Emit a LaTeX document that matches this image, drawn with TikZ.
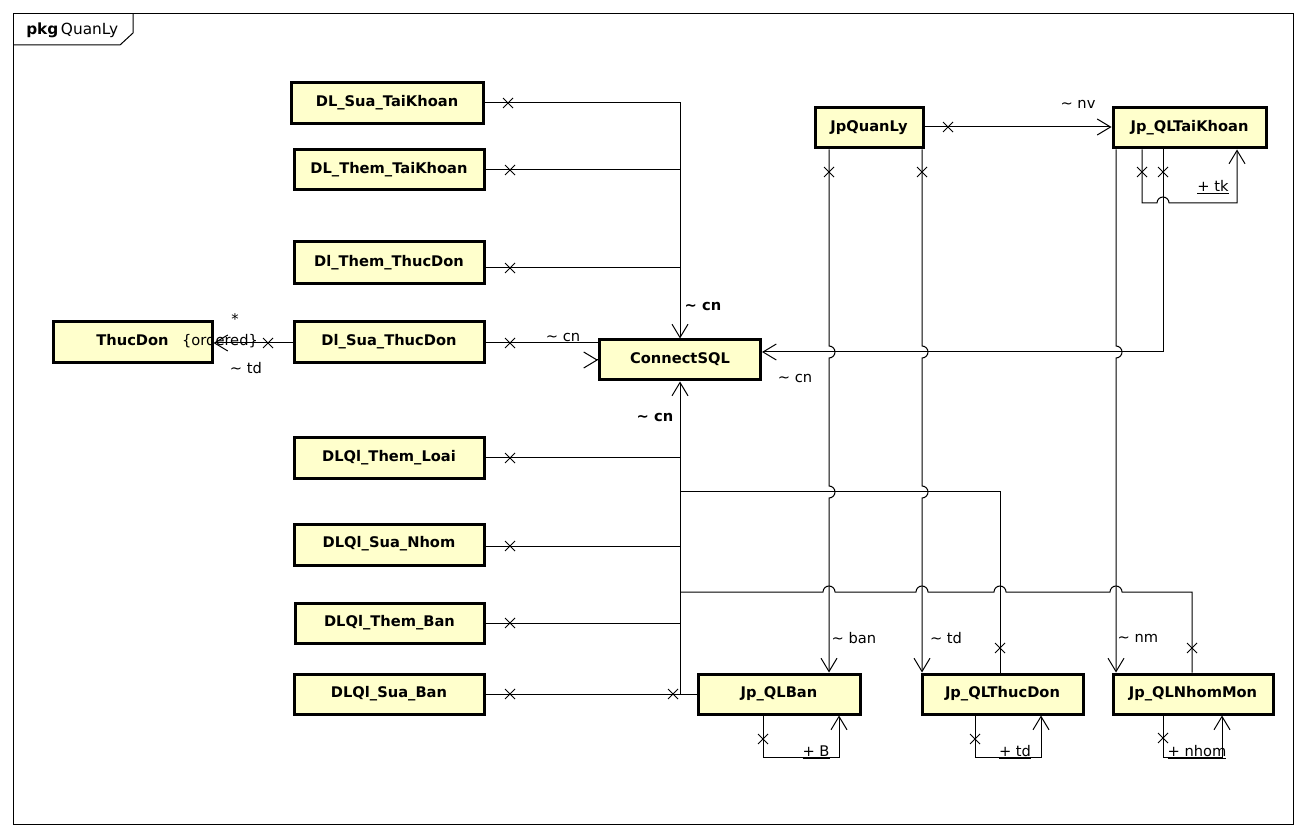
\documentclass[tikz,border=0pt]{standalone}
\usepackage{fontspec}
\setmainfont{DejaVu Sans}
\usetikzlibrary{arrows.meta,calc}
\definecolor{clsfill}{HTML}{FFFFCC}
\tikzset{
 cls/.style={draw=black, line width=2.25pt, fill=clsfill, font=\fontsize{11}{13}\selectfont\bfseries, inner sep=0pt, text height=8pt, text depth=3pt},
 conn/.style={line width=0.75pt},
 nav/.style={conn, -{Straight Barb[length=10pt,width=12pt,line width=0.75pt]}},
 lbl/.style={font=\fontsize{11}{13}\selectfont, inner sep=0pt},
 blbl/.style={font=\fontsize{11}{13}\selectfont\bfseries, inner sep=0pt},
 xm/.pic={\draw[line width=0.75pt] (-5,-5)--(5,5) (-5,5)--(5,-5);},
}
\newcommand\umlcls[6]{\node[cls,minimum width=#4*0.75pt,minimum height=#5*0.75pt] (#1) at (#2,#3) {#6};}
\begin{document}
\begin{tikzpicture}[x=0.75pt,y=-0.75pt]
\useasboundingbox (0,0) rectangle (1306,837);
% frame
\draw[line width=0.75pt] (13,14) rectangle (1293,824);
\draw[line width=0.75pt] (13,45) -- (120,45) -- (133,33) -- (133,14);
\node[anchor=west,inner sep=0pt,font=\fontsize{11.5}{13}\selectfont] (tab) at (26,30) {\textbf{pkg}\,QuanLy};
% classes
\umlcls{dlstk}{387}{103.5}{192}{41}{DL\_Sua\_TaiKhoan}
\umlcls{dlttk}{389}{170}{190}{40}{DL\_Them\_TaiKhoan}
\umlcls{dlttd}{389}{263}{190}{42}{Dl\_Them\_ThucDon}
\umlcls{dlstd}{389}{342.5}{190}{41}{Dl\_Sua\_ThucDon}
\umlcls{td}{132.5}{342.5}{159}{41}{ThucDon}
\umlcls{cs}{680}{360}{161}{40}{ConnectSQL}
\umlcls{dltl}{389}{458.5}{190}{41}{DLQl\_Them\_Loai}
\umlcls{dlsn}{389}{544.5}{190}{41}{DLQl\_Sua\_Nhom}
\umlcls{dltb}{389.5}{623}{189}{40}{DLQl\_Them\_Ban}
\umlcls{dlsb}{389}{694}{190}{40}{DLQl\_Sua\_Ban}
\umlcls{jql}{869}{128}{108}{40}{JpQuanLy}
\umlcls{qltk}{1189.5}{128}{153}{40}{Jp\_QLTaiKhoan}
\umlcls{qlban}{779}{694}{162}{40}{Jp\_QLBan}
\umlcls{qltd}{1002.5}{694}{161}{40}{Jp\_QLThucDon}
\umlcls{qlnm}{1193}{694}{160}{40}{Jp\_QLNhomMon}
% top trunk into ConnectSQL
\draw[nav] (dlstk.east |- 0,103) -- (680,103) -- (cs.north);
\draw[conn] (dlttk.east |- 0,170) -- (680,170);
\draw[conn] (dlttd.east |- 0,268) -- (680,268);
\pic at (508,103) {xm};
\pic at (510,170) {xm};
\pic at (510,268) {xm};
\node[blbl] (lcn1) at (703,306) {\textasciitilde{} cn};
% Dl_Sua_ThucDon -> ConnectSQL
\draw[conn] (dlstd.east |- 0,343) -- (cs.west |- 0,343);
\draw[nav] ($(cs.west)+(-1,0)$) -- (cs.west);
\pic at (510,343) {xm};
\node[lbl] (lcn2) at (563,337) {\textasciitilde{} cn};
% Dl_Sua_ThucDon -> ThucDon
\draw[nav] (dlstd.west |- 0,343) -- (td.east |- 0,343);
\pic at (268,343) {xm};
\node[lbl] (lstar) at (235,319) {*};
\node[lbl] (lord) at (220,341) {\{ordered\}};
\node[lbl] (ltd1) at (246,368) {\textasciitilde{} td};
% bottom trunk into ConnectSQL
\draw[nav] (dlsb.east |- 0,694) -- (680,694) -- (cs.south);
\draw[conn] (dltl.east |- 0,458) -- (680,458);
\draw[conn] (dlsn.east |- 0,546) -- (680,546);
\draw[conn] (dltb.east |- 0,623) -- (680,623);
\draw[conn] (qlban.west) -- (680,694);
\pic at (510,458) {xm};
\pic at (510,546) {xm};
\pic at (510,623) {xm};
\pic at (510,694) {xm};
\pic at (673,694) {xm};
\node[blbl] (lcn3) at (655,417) {\textasciitilde{} cn};
% JpQuanLy -> Jp_QLTaiKhoan
\draw[nav] (jql.east |- 0,127) -- (qltk.west |- 0,127);
\pic at (948,127) {xm};
\node[lbl] (lnv) at (1078,104) {\textasciitilde{} nv};
% JpQuanLy -> Jp_QLBan
\draw[nav] (jql.south -| 829,0) -- (829,346) arc[start angle=-90,end angle=90,radius=6]
  -- (829,486) arc[start angle=-90,end angle=90,radius=6] -- (qlban.north -| 829,0);
\pic at (829,172) {xm};
\node[lbl] (lban) at (854,638) {\textasciitilde{} ban};
% JpQuanLy -> Jp_QLThucDon
\draw[nav] (jql.south -| 922,0) -- (922,346) arc[start angle=-90,end angle=90,radius=6]
  -- (922,486) arc[start angle=-90,end angle=90,radius=6] -- (qltd.north -| 922,0);
\pic at (922,172) {xm};
\node[lbl] (ltd2) at (946,638) {\textasciitilde{} td};
% Jp_QLTaiKhoan -> Jp_QLNhomMon
\draw[nav] (qltk.south -| 1116,0) -- (1116,346) arc[start angle=-90,end angle=90,radius=6]
  -- (qlnm.north -| 1116,0);
\node[lbl] (lnm) at (1138,638) {\textasciitilde{} nm};
% Jp_QLTaiKhoan -> ConnectSQL
\draw[nav] (qltk.south -| 1163,0) -- (1163,352) -- (cs.east |- 0,352);
\pic at (1163,172) {xm};
\node[lbl] (lcn4) at (795,378) {\textasciitilde{} cn};
% Jp_QLTaiKhoan self
\draw[nav] (qltk.south -| 1142,0) -- (1142,203) -- (1157,203) arc[start angle=180,end angle=360,radius=6]
  -- (1237,203) -- (qltk.south -| 1237,0);
\pic at (1142,172) {xm};
\node[lbl] (ltk) at (1213,187) {\underline{+ tk}};
% Jp_QLThucDon -> ConnectSQL
\draw[conn] (qltd.north -| 1000,0) -- (1000,492) -- (680,492);
\pic at (1000,648) {xm};
% Jp_QLNhomMon -> ConnectSQL
\draw[conn] (qlnm.north -| 1192,0) -- (1192,592) -- (1122,592) arc[start angle=0,end angle=-180,radius=6]
  -- (1006,592) arc[start angle=0,end angle=-180,radius=6]
  -- (928,592) arc[start angle=0,end angle=-180,radius=6]
  -- (835,592) arc[start angle=0,end angle=-180,radius=6] -- (680,592);
\pic at (1192,648) {xm};
% self loops bottom
\draw[nav] (qlban.south -| 763,0) -- (763,757) -- (839,757) -- (qlban.south -| 839,0);
\pic at (763,739) {xm};
\node[lbl] (lb) at (816,752) {\underline{+ B}};
\draw[nav] (qltd.south -| 975,0) -- (975,757) -- (1041,757) -- (qltd.south -| 1041,0);
\pic at (975,739) {xm};
\node[lbl] (ltd3) at (1015,752) {\underline{+ td}};
\draw[nav] (qlnm.south -| 1163,0) -- (1163,757) -- (1222,757) -- (qlnm.south -| 1222,0);
\pic at (1163,738) {xm};
\node[lbl] (lnhom) at (1197,752) {\underline{+ nhom}};
\end{tikzpicture}
\end{document}
